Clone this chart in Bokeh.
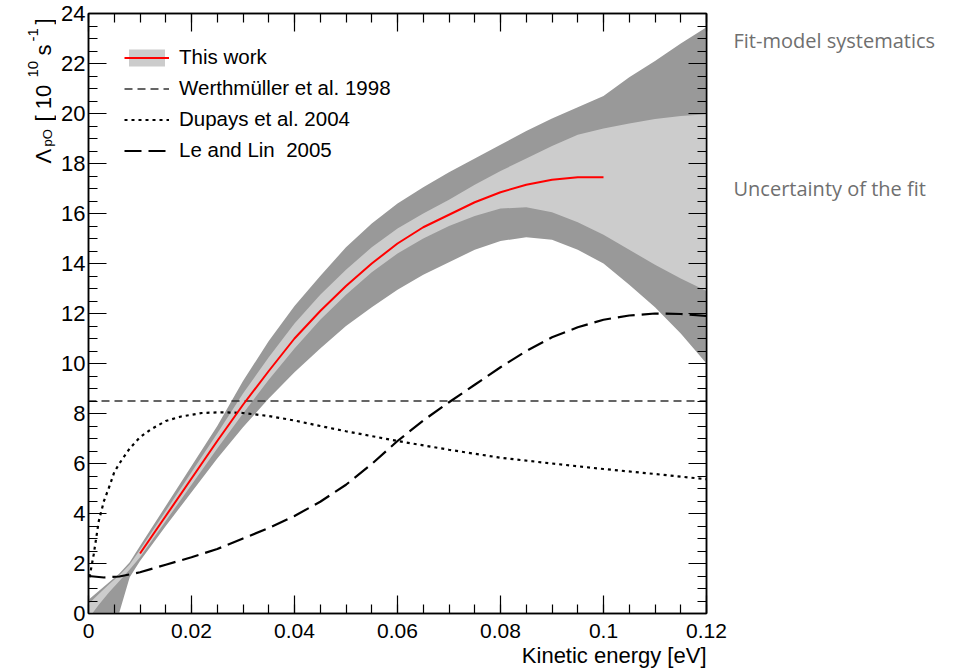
import numpy as np
from bokeh.plotting import figure
from bokeh.layouts import row
from bokeh.models import (Range1d, LinearAxis, FixedTicker, Legend, LegendItem, Title,
                          ColumnDataSource)
from bokeh.core.properties import value
from bokeh.embed import file_html
from bokeh.resources import INLINE

# ---------------- data ----------------
band_x = [0.0, 0.002, 0.004, 0.006, 0.008, 0.010, 0.015, 0.020, 0.025, 0.030, 0.035,
          0.040, 0.045, 0.050, 0.055, 0.060, 0.065, 0.070, 0.075, 0.080, 0.085,
          0.090, 0.095, 0.100, 0.105, 0.110, 0.115, 0.120]
sys_upper = [0.55, 0.9, 1.25, 1.6, 2.05, 2.7, 4.3, 5.9, 7.5, 9.3, 10.9, 12.3, 13.5, 14.65,
             15.6, 16.4, 17.05, 17.65, 18.2, 18.75, 19.3, 19.8, 20.25, 20.7, 21.45, 22.1,
             22.8, 23.45]
fit_upper = [0.38, 0.78, 1.17, 1.53, 1.96, 2.55, 4.1, 5.65, 7.2, 8.8, 10.25, 11.6, 12.75,
             13.75, 14.65, 15.4, 16.0, 16.55, 17.15, 17.7, 18.2, 18.7, 19.15, 19.4, 19.6,
             19.78, 19.9, 19.97]
fit_lower = [-0.2, 0.35, 0.85, 1.3, 1.76, 2.25, 3.7, 5.15, 6.6, 8.0, 9.35, 10.6, 11.75,
             12.75, 13.65, 14.4, 15.0, 15.5, 15.9, 16.2, 16.25, 16.05, 15.65, 15.15, 14.55,
             13.95, 13.4, 12.9]
sys_lower = [-5.0, -3.5, -1.6, 0.05, 1.45, 2.1, 3.5, 4.85, 6.2, 7.45, 8.6, 9.65, 10.6, 11.5,
             12.25, 12.95, 13.55, 14.05, 14.55, 14.9, 15.05, 14.95, 14.55, 14.0, 13.15,
             12.25, 11.2, 10.0]

this_work_x = [0.010, 0.015, 0.020, 0.025, 0.030, 0.035, 0.040, 0.045, 0.050, 0.055,
               0.060, 0.065, 0.070, 0.075, 0.080, 0.085, 0.090, 0.095, 0.100]
this_work_y = [2.4, 3.9, 5.4, 6.9, 8.35, 9.7, 11.0, 12.1, 13.1, 14.0, 14.8, 15.45, 15.95,
               16.45, 16.85, 17.15, 17.35, 17.45, 17.45]

werth_x = [0.0, 0.12]
werth_y = [8.5, 8.5]

dupays_x = [0.0002, 0.001, 0.002, 0.003, 0.004, 0.005, 0.006, 0.008, 0.010, 0.012, 0.015,
            0.018, 0.022, 0.026, 0.030, 0.035, 0.040, 0.045, 0.050, 0.060, 0.070, 0.080,
            0.090, 0.100, 0.110, 0.120]
dupays_y = [1.45, 2.35, 3.7, 4.5, 5.05, 5.65, 6.0, 6.6, 7.05, 7.35, 7.7, 7.88, 8.02, 8.05,
            8.02, 7.9, 7.72, 7.5, 7.29, 6.9, 6.55, 6.23, 6.0, 5.78, 5.58, 5.37]

lelin_x = [0.0, 0.003, 0.006, 0.010, 0.015, 0.020, 0.025, 0.030, 0.035, 0.040, 0.045,
           0.050, 0.055, 0.060, 0.065, 0.070, 0.075, 0.080, 0.085, 0.090, 0.095, 0.100,
           0.105, 0.110, 0.115, 0.120]
lelin_y = [1.5, 1.44, 1.48, 1.65, 1.95, 2.25, 2.58, 3.0, 3.42, 3.9, 4.47, 5.15, 5.98, 6.9,
           7.72, 8.45, 9.15, 9.85, 10.5, 11.05, 11.45, 11.75, 11.92, 12.0, 11.98, 11.9]

legend_labels = ["This work", "Werthmüller et al. 1998", "Dupays et al. 2004",
                 "Le and Lin  2005"]
side_labels = ["Fit-model systematics", "Uncertainty of the fit"]
x_title = "Kinetic energy [eV]"
y_title_pieces = ["Λ", "pO", "[ 10", "10", "s", "-1", "]"]

x_ticks = [0, 0.02, 0.04, 0.06, 0.08, 0.1, 0.12]
x_tick_labels = ["0", "0.02", "0.04", "0.06", "0.08", "0.1", "0.12"]
y_ticks = [0, 2, 4, 6, 8, 10, 12, 14, 16, 18, 20, 22, 24]
y_tick_labels = [str(t) for t in y_ticks]

FONT = "Liberation Sans"
H = 670
TOP, BOTTOM = 13, 57
LW = 56
MW = 675
RW = 219

# ---------------- main figure ----------------
p = figure(width=MW, height=H, x_range=Range1d(0, 0.12), y_range=Range1d(0, 24),
           output_backend="svg", toolbar_location=None,
           min_border_left=32, min_border_right=25, min_border_top=TOP,
           min_border_bottom=BOTTOM)
p.grid.visible = False
p.outline_line_color = "black"
p.outline_line_width = 1.5

p.add_layout(LinearAxis(), "above")
p.add_layout(LinearAxis(), "right")

x_minor = list(np.round(np.arange(0, 0.12001, 0.005), 4))
y_minor = list(np.arange(0, 24.01, 0.5))
for ax in p.xaxis:
    ax.ticker = FixedTicker(ticks=x_ticks, minor_ticks=x_minor)
for ax in p.yaxis:
    ax.ticker = FixedTicker(ticks=y_ticks, minor_ticks=y_minor)

for ax in p.axis:
    ax.axis_line_color = "black"
    ax.axis_line_width = 1.5
    ax.major_tick_line_color = "black"
    ax.minor_tick_line_color = "black"
    ax.major_tick_line_width = 1.2
    ax.minor_tick_line_width = 1.2
    ax.major_tick_out = 0
    ax.minor_tick_out = 0
    ax.major_tick_in = 18
    ax.minor_tick_in = 9
    ax.major_label_text_font = FONT
    ax.major_label_text_color = "black"

p.below[0].major_label_overrides = {t: l for t, l in zip(x_ticks, x_tick_labels)}
p.below[0].major_label_text_font_size = "21px"
p.below[0].major_label_standoff = 10
p.left[0].major_label_overrides = {t: l for t, l in zip(y_ticks, y_tick_labels)}
p.left[0].major_label_text_font_size = "22px"
p.left[0].major_label_standoff = 3
for ax in (p.above[0], p.right[0]):
    ax.major_label_text_font_size = "0px"
    ax.major_label_standoff = 0
    ax.major_label_text_alpha = 0

dark = p.varea(x=band_x, y1=sys_lower, y2=sys_upper, fill_color="#999999")
light = p.varea(x=band_x, y1=fit_lower, y2=fit_upper, fill_color="#cccccc")
werth = p.line(werth_x, werth_y, line_color="#333333", line_width=1.6, line_dash="8 5")
dup = p.line(dupays_x, dupays_y, line_color="black", line_width=2.2, line_dash="3 4")
lel = p.line(lelin_x, lelin_y, line_color="black", line_width=2.2, line_dash="17 7")
red = p.line(this_work_x, this_work_y, line_color="#ff0000", line_width=2)

legend = Legend(items=[LegendItem(label=legend_labels[0], renderers=[light, red]),
                       LegendItem(label=legend_labels[1], renderers=[werth]),
                       LegendItem(label=legend_labels[2], renderers=[dup]),
                       LegendItem(label=legend_labels[3], renderers=[lel])],
                location=(36, 451), padding=0, spacing=7, glyph_width=45, glyph_height=21,
                label_standoff=10, label_text_font=FONT, label_text_font_size="20.5px",
                label_text_color="black", border_line_alpha=0, background_fill_alpha=0)
p.add_layout(legend)

p.add_layout(Title(text=x_title, align="right", text_font=FONT, text_font_size="22px",
                   text_font_style="normal", text_color="black", standoff=0), "below")

# ---------------- side strips (frames aligned with the main frame) -------------
# y data of the strips = page pixel row (top of frame = TOP, bottom = H - BOTTOM)
def strip(width):
    f = figure(width=width, height=H, x_range=Range1d(0, width),
               y_range=Range1d(H - BOTTOM, TOP), output_backend="svg",
               toolbar_location=None, x_axis_type=None, y_axis_type=None,
               min_border_left=0, min_border_right=0, min_border_top=TOP,
               min_border_bottom=BOTTOM, outline_line_color=None)
    f.grid.visible = False
    return f

left = strip(LW)
ysrc = ColumnDataSource(dict(
    x=[43, 47, 43, 32, 43, 32, 43],
    y=[163, 146, 121, 77, 55, 41, 24],
    text=y_title_pieces,
    size=["22px", "13px", "22px", "15px", "22px", "15px", "22px"]))
left.text(x="x", y="y", text="text", source=ysrc, angle=np.pi / 2, text_align="left",
          text_baseline="alphabetic", text_font=value(FONT), text_font_size="size",
          text_color="black")

right = strip(RW)
right.text(x=[2, 2], y=[40, 188], text=side_labels, text_baseline="middle",
           text_align="left", text_font=value("Open Sans"), text_font_size="20px",
           text_color="#6f6f6f")

layout = row(left, p, right, spacing=0)
open("out.html", "w").write(file_html(layout, INLINE))
